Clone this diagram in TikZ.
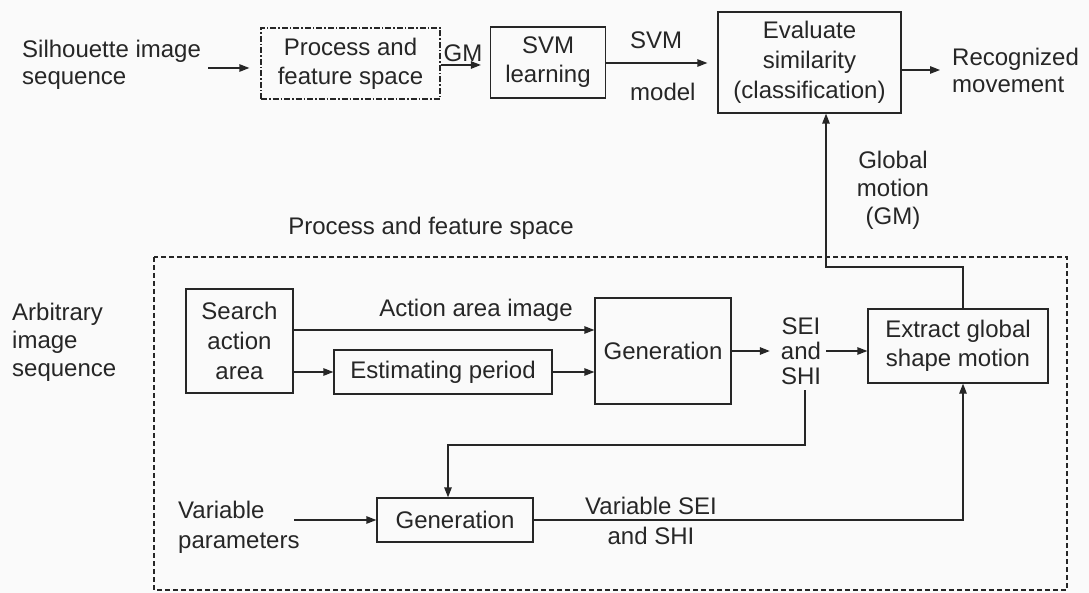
\documentclass[tikz,border=0pt]{standalone}
\usepackage{fontspec}
\setmainfont{Liberation Sans}
\usetikzlibrary{arrows.meta}
\begin{document}
\begin{tikzpicture}[x=1pt,y=-1pt,
  every node/.style={font=\fontsize{24}{29}\selectfont, text=black!85},
  box/.style={draw=black!85, line width=1.3pt, inner sep=0pt, align=center},
  lbl/.style={align=center, inner sep=0pt},
  lbll/.style={align=left, inner sep=0pt, anchor=west},
  arr/.style={draw=black!85, line width=1.3pt, -{Triangle[length=10pt,width=7.5pt]}},
  ln/.style={draw=black!85, line width=1.3pt}]
\fill[black!2] (0,0) rectangle (1089,593);
\useasboundingbox (0,0) rectangle (1089,593);
% top row
\node[lbll, font=\fontsize{24}{27}\selectfont] (sil) at (22,65) {Silhouette image\\sequence};
\node[box, dash pattern=on 6pt off 2pt on 1.5pt off 2pt, minimum width=179pt, minimum height=71pt] (P) at (350.5,63.5) {Process and\\feature space};
\node[box, minimum width=115pt, minimum height=71pt] (svm) at (548,62.5) {SVM\\learning};
\node[box, font=\fontsize{24}{30}\selectfont, minimum width=183pt, minimum height=101pt] (eval) at (809.5,62.5) {Evaluate\\similarity\\(classification)};
\node[lbll, font=\fontsize{24}{27}\selectfont] (rec) at (952,70) {Recognized\\movement};
\coordinate (s1) at (208,68);
\draw[arr, shorten >=11pt] (s1) -- (P.west |- s1);
\coordinate (g1) at (P.east |- 0,65);
\draw[arr, shorten >=9pt] (g1) -- (svm.west |- g1);
\node[lbl] (gm) at (463,53) {GM};
\coordinate (v1) at (svm.east |- 0,63);
\draw[arr, shorten >=10pt] (v1) -- (eval.west |- v1);
\node[lbll] (svmlab) at (630,40) {SVM};
\node[lbll] (model) at (630,92) {model};
\coordinate (e1) at (eval.east |- 0,70);
\draw[arr, shorten >=12pt] (e1) -- (rec.west |- e1);
% labels middle
\node[lbl, font=\fontsize{24}{28}\selectfont] (glob) at (893,190) {Global\\motion\\(GM)};
\node[lbl] (pfs) at (431,228) {Process and feature space};
% dashed region
\draw[draw=black!85, line width=1.2pt, dash pattern=on 5pt off 3pt] (154,257) rectangle (1067,590);
\node[lbll, font=\fontsize{24}{28}\selectfont] (arb) at (12,342) {Arbitrary\\image\\sequence};
\node[box, font=\fontsize{24}{30}\selectfont, minimum width=107pt, minimum height=104pt] (search) at (239.5,341) {Search\\action\\area};
\node[box, minimum width=218pt, minimum height=44pt] (est) at (443,372) {Estimating period};
\node[box, minimum width=136pt, minimum height=106pt] (gen) at (663,351) {Generation};
\node[lbl, font=\fontsize{24}{25}\selectfont] (sei) at (801,351) {SEI\\and\\SHI};
\node[box, minimum width=180pt, minimum height=74pt] (ext) at (958,346) {Extract global\\shape motion};
\node[lbl] (aai) at (476,310) {Action area image};
\coordinate (a1) at (search.east |- 0,330);
\draw[arr] (a1) -- (gen.west |- a1);
\coordinate (a2) at (search.east |- est);
\draw[arr] (a2) -- (est.west);
\draw[arr] (est.east) -- (gen.west |- est);
\coordinate (a3) at (gen.east |- sei);
\draw[arr, shorten >=11pt] (a3) -- (sei.west);
\draw[arr, shorten <=5pt] (sei.east) -- (ext.west |- sei);
% GM feedback
\coordinate (f1) at (963,267);
\coordinate (f2) at (826,267);
\draw[arr] (ext.north -| f1) -- (f1) -- (f2) -- (eval.south -| f2);
% bottom
\node[box, minimum width=156pt, minimum height=44pt] (gen2) at (455,520) {Generation};
\node[lbll, font=\fontsize{24}{30}\selectfont] (vp) at (178,527) {Variable\\parameters};
\coordinate (b0) at (805,390);
\coordinate (b1) at (805,445);
\coordinate (b2) at (448,445);
\draw[arr] (b0) -- (b1) -- (b2) -- (gen2.north -| b2);
\coordinate (p1) at (294,520);
\draw[arr] (p1) -- (gen2.west);
\coordinate (q1) at (963,520);
\draw[arr] (gen2.east) -- (q1) -- (ext.south -| q1);
\node[lbl, font=\fontsize{24}{30}\selectfont] (vsei) at (651,521) {Variable SEI\\and SHI};
\end{tikzpicture}
\end{document}
